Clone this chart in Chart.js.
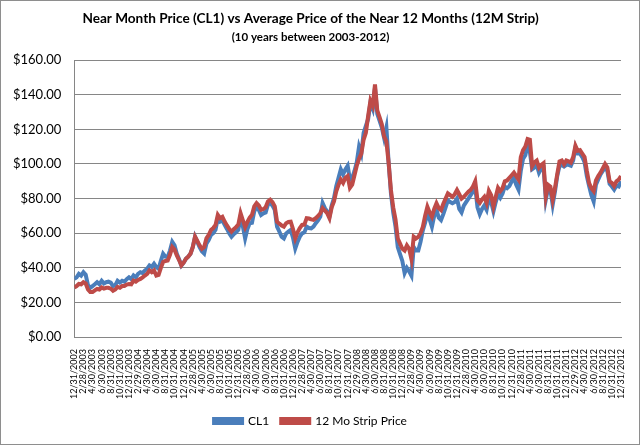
<!DOCTYPE html>
<html>
<head>
<meta charset="utf-8">
<script src="https://cdn.jsdelivr.net/npm/chart.js@4.4.1/dist/chart.umd.min.js"></script>
<style>
  html, body { margin: 0; padding: 0; background: #fff; }
  #wrap { width: 640px; height: 445px; position: relative; }
</style>
</head>
<body>
<div id="wrap"><canvas id="myChart"></canvas></div>
<script>
// bi-monthly month-end tick labels (12/31/2002 .. 12/31/2012)
const tickLabels = [
  "12/31/2002", "2/28/2003", "4/30/2003", "6/30/2003", "8/31/2003", "10/31/2003",
  "12/31/2003", "2/29/2004", "4/30/2004", "6/30/2004", "8/31/2004", "10/31/2004",
  "12/31/2004", "2/28/2005", "4/30/2005", "6/30/2005", "8/31/2005", "10/31/2005",
  "12/31/2005", "2/28/2006", "4/30/2006", "6/30/2006", "8/31/2006", "10/31/2006",
  "12/31/2006", "2/28/2007", "4/30/2007", "6/30/2007", "8/31/2007", "10/31/2007",
  "12/31/2007", "2/29/2008", "4/30/2008", "6/30/2008", "8/31/2008", "10/31/2008",
  "12/31/2008", "2/28/2009", "4/30/2009", "6/30/2009", "8/31/2009", "10/31/2009",
  "12/31/2009", "2/28/2010", "4/30/2010", "6/30/2010", "8/31/2010", "10/31/2010",
  "12/31/2010", "2/28/2011", "4/30/2011", "6/30/2011", "8/31/2011", "10/31/2011",
  "12/31/2011", "2/29/2012", "4/30/2012", "6/30/2012", "8/31/2012", "10/31/2012",
  "12/31/2012"
];

// prices read twice a month, from 12/31/2002 to 12/31/2012
const cl1 = [
  33.6, 34.5, 36.5, 35.5, 37.5, 36, 30, 28.5, 29.5, 30.5, 31.7, 30.5,
  32.5, 31, 31.7, 32, 31.5, 29.5, 30, 32.5, 31.5, 32.5, 32, 33.5,
  34.5, 33.5, 35.6, 34.5, 36.5, 37.5, 37, 38.5, 39.5, 41.4, 40.5, 42.4,
  40.4, 39.5, 44, 48.2, 46.5, 46.3, 50, 55, 53, 48.2, 45, 41.4,
  43, 45.3, 46.5, 48.2, 52, 58, 55, 52, 49.5, 48.2, 54, 56,
  59, 60, 62, 68.7, 66.7, 67.5, 64.8, 62.5, 60, 58, 59.5, 60.5,
  62, 69.6, 64, 57, 62.5, 65.8, 66, 72.6, 75.5, 73.5, 70.6, 71.5,
  72, 76.5, 77.4, 76, 73.5, 63.8, 61, 58, 57, 59.9, 61, 61.9,
  57.5, 51.2, 55, 58, 59.9, 60.5, 63.8, 63, 62.8, 63.8, 65.8, 67.5,
  69.6, 77.4, 74.5, 72.6, 69.6, 76, 80.3, 87.2, 92, 96.9, 94, 96.9,
  99, 91, 92, 96, 101, 110, 106, 118, 122, 126, 135.5, 132,
  144, 129, 125, 121, 115, 121, 100.6, 83, 72, 64, 52, 48,
  44, 37, 40, 38, 35.5, 52, 50, 50, 55, 61.7, 66, 71.5,
  68, 63.7, 70, 73.4, 69, 67.6, 71, 75, 79, 78, 77.3, 78,
  80, 74, 72, 76, 78, 80, 82, 84, 86.5, 75, 71, 74,
  76, 73.5, 80, 78, 72.6, 78, 82.5, 80.5, 83, 87, 86, 87.2,
  90, 92, 88, 85.2, 96, 103, 105, 111, 107, 97, 98, 99.5,
  95, 97.5, 98, 79.4, 86, 85, 76.5, 84, 93, 99, 99.5, 98.5,
  99.5, 99.5, 99, 102, 109.5, 106, 106, 104, 101, 93, 87.2, 82,
  78.4, 88, 91, 94, 96, 98, 96, 88.5, 87, 85.2, 87.5, 87,
  90
];

const strip12 = [
  28.7, 29.5, 30.7, 30.5, 31.7, 31, 27.5, 26, 26, 27, 27.8, 27.5,
  28.7, 28, 28.5, 28.5, 28, 26.8, 27.5, 29, 28.5, 29.5, 29.5, 30.3,
  30.7, 30.5, 32.6, 32, 33, 33.6, 34.5, 35.6, 36.5, 38.5, 37.5, 38.5,
  35.6, 36, 40, 43.4, 44, 44.3, 47.5, 52, 50.5, 47.2, 44.5, 41.4,
  43, 45.3, 46.5, 48.2, 52, 58, 55.5, 53, 51, 52, 57, 59,
  61.9, 63, 64.8, 70.6, 68.7, 69.5, 66.7, 64.5, 62.5, 60.9, 62.3, 63.5,
  65, 71.6, 67.5, 63.5, 66.5, 69, 70.6, 75.5, 77.4, 76, 73.5, 74,
  75, 78.4, 79.4, 78, 75.5, 66.7, 65.5, 64.5, 63.8, 65.8, 66.5, 66.7,
  62.5, 57, 60.5, 63, 64.8, 65, 68.7, 68.5, 68, 67.7, 68.7, 70,
  71.6, 74.5, 73, 71.6, 68.7, 75, 78.4, 84.2, 88, 91, 89.1, 92,
  93, 86.2, 88, 93.5, 99, 103, 106, 114, 118, 127.8, 136.5, 133.6,
  146, 131, 127, 123, 116, 113, 100.6, 85, 75, 68, 57, 54,
  51, 50, 53, 51, 45, 58, 57, 57.9, 60, 63.7, 70, 75.3,
  72, 69.5, 74, 77.3, 74.5, 73.4, 77, 80, 83, 82, 81, 82.5,
  85, 82.5, 80, 81, 82.5, 84, 85, 87, 90, 79, 77.5, 79.5,
  81, 77.5, 84.5, 82, 75.5, 81, 86.2, 84.3, 86, 90, 90.5, 92,
  93.5, 95, 93, 91, 104, 108, 110, 114.4, 114, 98.8, 101, 102,
  97.9, 99.5, 100.5, 81.4, 88, 87, 79.4, 86, 94, 101.5, 102, 99.8,
  102, 101.5, 100.8, 104, 110.5, 107.6, 108, 106, 104, 96, 89, 86,
  84.3, 90.5, 93, 95, 97.5, 100, 98, 90, 89, 87.2, 90, 91,
  93
];

const FONT = "Lato, 'Open Sans', sans-serif";
const GRID = "#868686";

// x is in months since 12/31/2002, two readings per month
const toPoints = (arr) => arr.map((v, i) => ({ x: i / 2, y: v }));

const frame = {
  id: "frame",
  afterDraw(chart) {
    const ctx = chart.ctx;
    ctx.save();
    ctx.strokeStyle = "#8e8e8e";
    ctx.lineWidth = 1;
    ctx.strokeRect(0.5, 0.5, chart.width - 1, chart.height - 1);
    ctx.restore();
  }
};

new Chart(document.getElementById("myChart"), {
  type: "line",
  data: {
    datasets: [
      {
        label: "CL1",
        data: toPoints(cl1),
        borderColor: "#4a7ebb",
        backgroundColor: "#4a7ebb",
        borderWidth: 4,
        pointRadius: 0,
        order: 1
      },
      {
        label: "12 Mo Strip Price",
        data: toPoints(strip12),
        borderColor: "#be4b48",
        backgroundColor: "#be4b48",
        borderWidth: 4,
        pointRadius: 0,
        order: 0
      }
    ]
  },
  options: {
    responsive: true,
    maintainAspectRatio: false,
    animation: false,
    layout: { padding: { top: 10, right: 19, left: 0, bottom: 8 } },
    plugins: {
      title: {
        display: true,
        text: "Near Month Price (CL1) vs Average Price of the Near 12 Months (12M Strip)",
        color: "#000",
        font: { family: FONT, size: 13.6, weight: "bold" },
        padding: { top: 0, bottom: 4 }
      },
      subtitle: {
        display: true,
        text: "(10 years between 2003-2012)",
        color: "#000",
        font: { family: FONT, size: 11.5, weight: "bold" },
        padding: { top: 0, bottom: 16 }
      },
      legend: {
        position: "bottom",
        labels: {
          color: "#000",
          font: { family: FONT, size: 12 },
          boxWidth: 28,
          boxHeight: 4,
          padding: 12,
          sort: (a, b) => a.datasetIndex - b.datasetIndex
        }
      },
      tooltip: { enabled: false }
    },
    scales: {
      x: {
        type: "linear",
        min: 0,
        max: 120,
        grid: { display: false },
        border: { display: true, color: GRID },
        ticks: {
          stepSize: 2,
          autoSkip: false,
          maxRotation: 90,
          minRotation: 90,
          color: "#000",
          padding: 4,
          font: { family: FONT, size: 9 },
          callback: (v) => tickLabels[v / 2]
        }
      },
      y: {
        min: 0,
        max: 160,
        grid: { color: GRID, drawTicks: false },
        border: { display: true, color: GRID },
        ticks: {
          stepSize: 20,
          color: "#000",
          padding: 13,
          font: { family: FONT, size: 13 },
          callback: (v) => "$" + v.toFixed(2)
        }
      }
    }
  },
  plugins: [frame]
});
</script>
</body>
</html>
